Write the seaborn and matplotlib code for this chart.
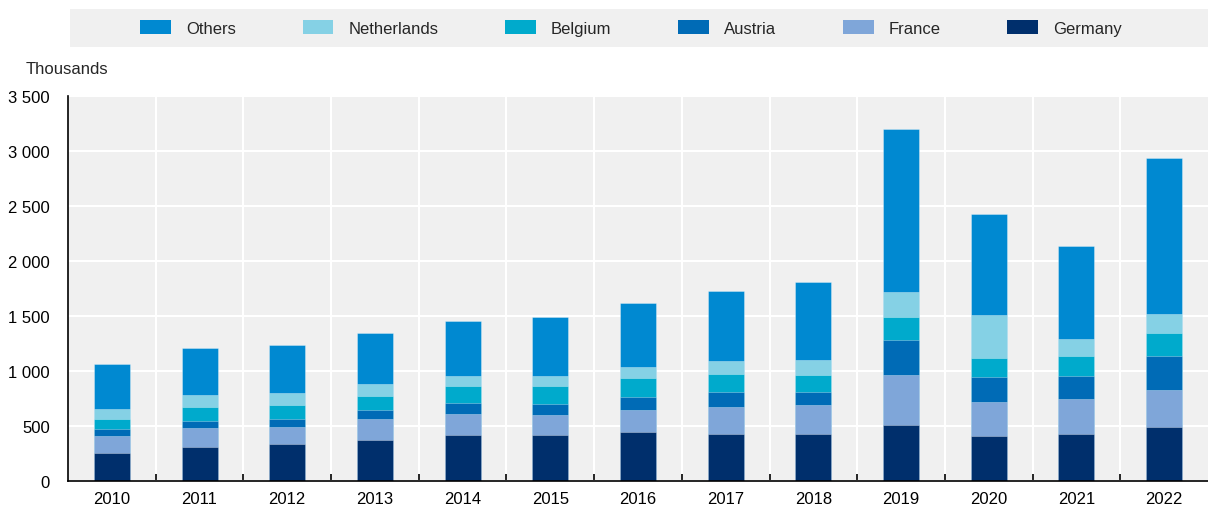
import pandas as pd
import numpy as np
import matplotlib
matplotlib.use("Agg")
import matplotlib.pyplot as plt
import seaborn as sns
from matplotlib import font_manager
from matplotlib.patches import Rectangle, Patch
from matplotlib.ticker import FuncFormatter, FixedLocator

# Data (thousands)
years = ["2010", "2011", "2012", "2013", "2014", "2015", "2016",
         "2017", "2018", "2019", "2020", "2021", "2022"]
germany = [252, 312, 336, 375, 418, 421, 443, 430, 430, 509, 412, 430, 488]
france = [160, 167, 158, 186, 191, 179, 202, 240, 261, 452, 309, 312, 339]
austria = [61, 69, 72, 87, 100, 103, 121, 142, 121, 318, 227, 215, 306]
belgium = [91, 127, 128, 128, 155, 158, 173, 163, 154, 215, 173, 176, 215]
netherlands = [91, 107, 103, 106, 91, 91, 94, 116, 134, 221, 388, 158, 173]
others = [409, 427, 436, 461, 500, 539, 588, 639, 709, 1485, 915, 845, 1412]

series = ["Germany", "France", "Austria", "Belgium", "Netherlands", "Others"]
colors = {"Germany": "#002F6C", "France": "#7FA6D9", "Austria": "#006BB6",
          "Belgium": "#00AACC", "Netherlands": "#85D1E5", "Others": "#0089D1"}

df = pd.DataFrame({"year": years, "Germany": germany, "France": france,
                   "Austria": austria, "Belgium": belgium,
                   "Netherlands": netherlands, "Others": others})
cum = df[series].cumsum(axis=1)
cum["year"] = df["year"]

# font: narrow Arial look if available
names = {f.name for f in font_manager.fontManager.ttflist}
if "Liberation Sans Narrow" in names:
    fam, fs = "Liberation Sans Narrow", 14
else:
    fam, fs = "Liberation Sans", 12

sns.set_style("white")
plt.rcParams["font.family"] = [fam, "DejaVu Sans"]
plt.rcParams["font.size"] = fs

fig = plt.figure(figsize=(12.08, 5.06), dpi=100)
W, H = 1208, 506
ax = fig.add_axes([68 / W, (H - 482) / H, 1 - 68 / W, (482 - 97) / H])
ax.set_facecolor("#F0F0F0")

# stacked bars: draw cumulative totals from the top down
for s in series[::-1]:
    sns.barplot(data=cum, x="year", y=s, color=colors[s], width=0.41,
                saturation=1, edgecolor="#FFFFFF70", linewidth=0.5,
                ax=ax, zorder=3)

ax.set_xlim(-0.5, len(years) - 0.5)
ax.set_ylim(0, 3500)
ax.set_xlabel("")
ax.set_ylabel("")

ax.yaxis.set_major_locator(FixedLocator(np.arange(0, 3501, 500)))
ax.yaxis.set_major_formatter(FuncFormatter(lambda v, p: f"{v:,.0f}".replace(",", " ")))
ax.xaxis.set_minor_locator(FixedLocator(np.arange(0.5, len(years) - 1, 1)))

ax.grid(True, which="major", axis="y", color="white", linewidth=1.5, zorder=1)
ax.grid(True, which="minor", axis="x", color="white", linewidth=1.5, zorder=1)
ax.set_axisbelow(True)

for side in ["top", "right"]:
    ax.spines[side].set_visible(False)
for side in ["left", "bottom"]:
    ax.spines[side].set_color("black")
    ax.spines[side].set_linewidth(1.2)
    ax.spines[side].set_zorder(5)

ax.tick_params(axis="y", which="major", direction="in", length=4, width=1.2,
               color="black", pad=13, labelsize=fs, labelcolor="black")
ax.tick_params(axis="x", which="major", length=0, pad=7, labelsize=fs, labelcolor="black")
ax.tick_params(axis="x", which="minor", direction="in", length=5, width=1.2,
               color="black", bottom=True)

fig.text(26 / W, 1 - 70 / H, "Thousands", ha="left", va="center", fontsize=fs)

# legend band
fig.patches.append(Rectangle((70 / W, (H - 48) / H), 1 - 70 / W, 38 / H,
                             transform=fig.transFigure, facecolor="#F0F0F0",
                             edgecolor="none", zorder=0))
order = ["Others", "Netherlands", "Belgium", "Austria", "France", "Germany"]
handles = [Patch(facecolor=colors[s], edgecolor="none") for s in order]
fig.legend(handles, order, loc="center", bbox_to_anchor=(631 / W, 1 - 29 / H),
           ncol=6, frameon=False, fontsize=fs, handlelength=1.85, handleheight=0.9,
           handletextpad=0.9, columnspacing=4.0, borderpad=0)

fig.savefig("out.png", dpi=100)
